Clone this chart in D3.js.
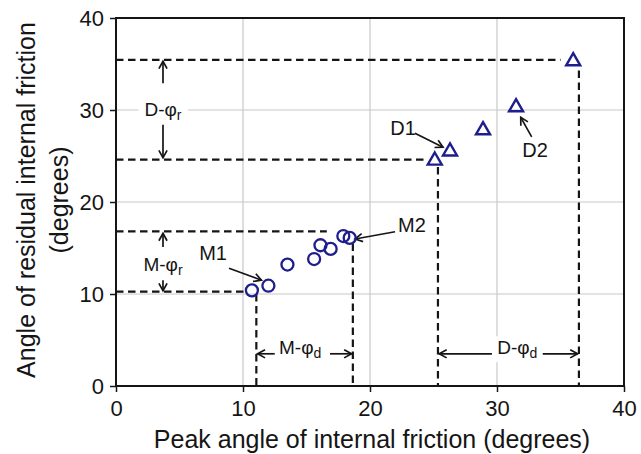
<!DOCTYPE html>
<html><head><meta charset="utf-8">
<script src="https://cdn.jsdelivr.net/npm/d3@7"></script>
<style>html,body{margin:0;padding:0;background:#fff;}svg{display:block;}</style>
</head><body>
<script>
// ---- data ----
const ticks = [0, 10, 20, 30, 40];
const mPeak = [10.7, 12.0, 13.5, 15.6, 16.1, 16.9, 17.9, 18.4];
const mResid = [10.4, 10.9, 13.2, 13.8, 15.3, 14.9, 16.3, 16.1];
const dPeak = [25.1, 26.3, 28.9, 31.5, 36.0];
const dResid = [24.5, 25.5, 27.8, 30.3, 35.3];
// guide lines [x1,y1,x2,y2] in data units
const guides = [
  [0, 16.8, 16.6, 16.8], [0, 10.25, 10.3, 10.25],
  [11.05, 10.0, 11.05, 0], [18.65, 15.5, 18.65, 0],
  [0, 35.45, 35.0, 35.45], [0, 24.6, 24.3, 24.6],
  [25.35, 23.8, 25.35, 0], [36.45, 34.3, 36.45, 0]
];
// arrows [x1,y1,x2(tip),y2(tip)]
const arrows = [
  [3.7, 32.9, 3.7, 35.3], [3.7, 28.4, 3.7, 24.8],
  [3.7, 15.1, 3.7, 16.6], [3.7, 11.5, 3.7, 10.35],
  [12.5, 3.5, 11.15, 3.5], [16.85, 3.5, 18.55, 3.5],
  [29.6, 3.5, 25.45, 3.5], [33.6, 3.5, 36.35, 3.5],
  [8.9, 12.8, 11.45, 11.5], [21.97, 16.77, 18.82, 15.98],
  [23.54, 27.48, 25.75, 25.96], [32.73, 27.07, 31.87, 29.2]
];
const pointLabels = [["M1", 7.64, 14.5], ["M2", 23.3, 17.5], ["D1", 22.6, 28.04], ["D2", 33.0, 25.65]];
const rangeLabels = [["D-φ", "r", 3.7, 30, true], ["M-φ", "r", 3.7, 13.15, false],
                     ["M-φ", "d", 14.5, 4.1, false], ["D-φ", "d", 31.6, 4.1, true]];

const W = 641, H = 454;
const x = d3.scaleLinear().domain([0, 40]).range([116, 624]);
const y = d3.scaleLinear().domain([0, 40]).range([386, 18]);
const svg = d3.select("body").append("svg").attr("width", W).attr("height", H)
  .style("font-family", "'Liberation Sans', Arial, sans-serif");
const ink = "#151515", blue = "#1e1e8c";

// grid
svg.append("g").selectAll("line").data(ticks.slice(1, 4)).join("line")
  .attr("x1", d => x(d)).attr("x2", d => x(d)).attr("y1", y(0)).attr("y2", y(40))
  .attr("stroke", "#c8c8c8").attr("stroke-width", 1.2);
svg.append("g").selectAll("line").data(ticks.slice(1, 4)).join("line")
  .attr("y1", d => y(d)).attr("y2", d => y(d)).attr("x1", x(0)).attr("x2", x(40))
  .attr("stroke", "#c8c8c8").attr("stroke-width", 1.2);

// axes
const gx = svg.append("g").attr("transform", `translate(0,${y(0)})`)
  .call(d3.axisBottom(x).tickValues(ticks).tickSize(6).tickPadding(8));
const gy = svg.append("g").attr("transform", `translate(${x(0)},0)`)
  .call(d3.axisLeft(y).tickValues(ticks).tickSize(6).tickPadding(6));
[gx, gy].forEach(g => {
  g.select(".domain").remove();
  g.selectAll("line").attr("stroke", ink).attr("stroke-width", 1.5);
  g.selectAll("text").attr("fill", ink).style("font-size", "22px").style("font-family", "'Liberation Sans', Arial, sans-serif");
});
svg.append("rect").attr("x", x(0)).attr("y", y(40)).attr("width", x(40) - x(0)).attr("height", y(0) - y(40))
  .attr("fill", "none").attr("stroke", ink).attr("stroke-width", 2);

// guides
svg.append("g").selectAll("line").data(guides).join("line")
  .attr("x1", d => x(d[0])).attr("y1", d => y(d[1])).attr("x2", d => x(d[2])).attr("y2", d => y(d[3]))
  .attr("stroke", ink).attr("stroke-width", 2.2).attr("stroke-dasharray", "7.5,4.5");

// range labels with white background
rangeLabels.forEach(([t, sub, lx, ly, bg]) => {
  const g = svg.append("g");
  const txt = g.append("text").attr("x", x(lx)).attr("y", y(ly) + 6).attr("text-anchor", "middle")
    .attr("fill", ink).style("font-size", "19px");
  txt.append("tspan").text(t);
  txt.append("tspan").attr("dy", 4).style("font-size", "14px").text(sub);
  if (bg) {
    const b = txt.node().getBBox();
    g.insert("rect", "text").attr("x", b.x - 6).attr("y", b.y - 1).attr("width", b.width + 12).attr("height", b.height + 2).attr("fill", "#fff");
  }
});

// arrows
const ag = svg.append("g").attr("stroke", ink).attr("stroke-width", 1.7).attr("fill", "none");
arrows.forEach(([x1, y1, x2, y2]) => {
  const X1 = x(x1), Y1 = y(y1), X2 = x(x2), Y2 = y(y2);
  ag.append("line").attr("x1", X1).attr("y1", Y1).attr("x2", X2).attr("y2", Y2);
  const a = Math.atan2(Y2 - Y1, X2 - X1), L = 8.5, s = 0.5;
  ag.append("path").attr("d",
    `M${X2 - L * Math.cos(a - s)},${Y2 - L * Math.sin(a - s)}L${X2},${Y2}L${X2 - L * Math.cos(a + s)},${Y2 - L * Math.sin(a + s)}`);
});

// point labels
svg.append("g").selectAll("text").data(pointLabels).join("text")
  .attr("x", d => x(d[1])).attr("y", d => y(d[2]) + 7).attr("text-anchor", "middle")
  .attr("fill", ink).style("font-size", "20px").text(d => d[0]);

// markers
svg.append("g").selectAll("circle").data(mPeak).join("circle")
  .attr("cx", d => x(d)).attr("cy", (d, i) => y(mResid[i])).attr("r", 6)
  .attr("fill", "none").attr("stroke", blue).attr("stroke-width", 2.3);
const tri = d3.symbol().type(d3.symbolTriangle).size(85);
svg.append("g").selectAll("path").data(dPeak).join("path")
  .attr("d", tri).attr("transform", (d, i) => `translate(${x(d)},${y(dResid[i])})`)
  .attr("fill", "none").attr("stroke", blue).attr("stroke-width", 2.4);

// titles
svg.append("text").attr("x", (x(0) + x(40)) / 2 + 2).attr("y", 448).attr("text-anchor", "middle")
  .attr("fill", ink).style("font-size", "25px").text("Peak angle of internal friction (degrees)");
const yt = svg.append("text").attr("transform", `translate(0,${y(20) - 2}) rotate(-90)`).attr("text-anchor", "middle")
  .attr("fill", ink).style("font-size", "25px");
yt.append("tspan").attr("x", 0).attr("y", 35).text("Angle of residual internal friction");
yt.append("tspan").attr("x", 0).attr("y", 68).text("(degrees)");
</script>
</body></html>
